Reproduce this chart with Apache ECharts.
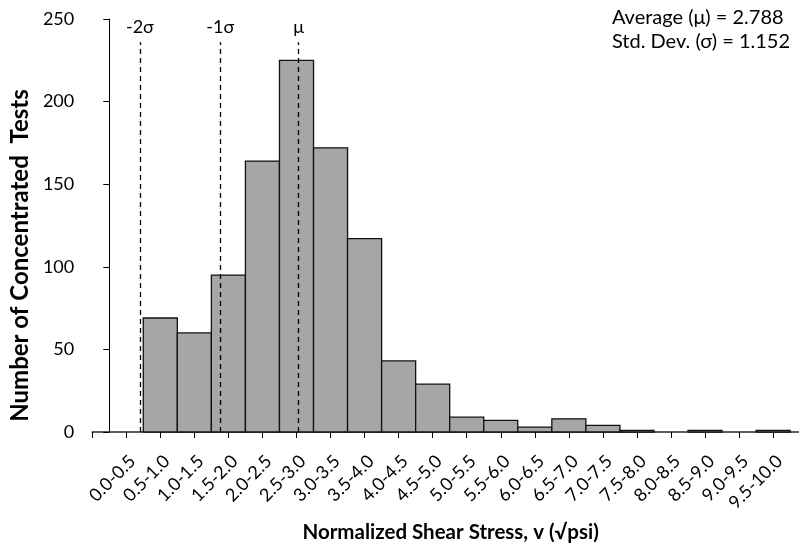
<!DOCTYPE html>
<html>
<head>
<meta charset="utf-8">
<script src="https://cdn.jsdelivr.net/npm/echarts@6/dist/echarts.min.js"></script>
<style>
html,body{margin:0;padding:0;background:#fff;}
#chart{width:799px;height:548px;}
</style>
</head>
<body>
<div id="chart"></div>
<script>
// ---- data ----
const categories = ['0.0-0.5','0.5-1.0','1.0-1.5','1.5-2.0','2.0-2.5','2.5-3.0','3.0-3.5','3.5-4.0','4.0-4.5','4.5-5.0',
                    '5.0-5.5','5.5-6.0','6.0-6.5','6.5-7.0','7.0-7.5','7.5-8.0','8.0-8.5','8.5-9.0','9.0-9.5','9.5-10.0'];
const binStart = [0.0,0.5,1.0,1.5,2.0,2.5,3.0,3.5,4.0,4.5,5.0,5.5,6.0,6.5,7.0,7.5,8.0,8.5,9.0,9.5];
const binWidth = 0.5;
const counts = [0,69,60,95,164,225,172,117,43,29,9,7,3,8,4,1,0,1,0,1];
const yTicks = [0,50,100,150,200,250];
const mu = 2.788;
const sigma = 1.152;
const refLabels = ['-2σ','-1σ','μ'];
const refPositions = [0.45,1.63,2.78];   // (≈ μ-2σ, μ-σ, μ)
const refLineTop = 236;

const FONT = 'Lato';
const chart = echarts.init(document.getElementById('chart'), null, {renderer:'canvas'});

const centers = binStart.map(s => s + binWidth/2);
const tickValues = [binStart[0] - binWidth/2].concat(centers);
const labelOf = {};
centers.forEach((c,i)=>{ labelOf[c.toFixed(2)] = categories[i]; });

const barData = binStart.map((s,i)=>[s, s+binWidth, counts[i]]);

const option = {
  animation:false,
  grid:{left:91, right:0, top:19, bottom:116, containLabel:false},
  xAxis:{
    type:'value',
    min: binStart[0] - binWidth/2,
    max: 10.13,
    name:'Normalized Shear Stress, v (√psi)',
    nameLocation:'middle',
    nameGap:90,
    nameTextStyle:{fontFamily:FONT,fontWeight:'bold',fontSize:20.5,color:'#000',padding:[0,0,0,10]},
    axisLine:{show:true,onZero:false,lineStyle:{color:'#2a2a2a',width:1.5}},
    axisTick:{show:true,length:6,inside:false,customValues:tickValues,lineStyle:{color:'#000',width:1}},
    axisLabel:{show:true,rotate:45,margin:20,verticalAlign:'top',fontFamily:FONT,fontSize:18,color:'#000',
      customValues:centers,
      formatter:(v)=> labelOf[Number(v).toFixed(2)] || ''},
    splitLine:{show:false}
  },
  yAxis:{
    type:'value',
    min:yTicks[0], max:yTicks[yTicks.length-1], interval:yTicks[1]-yTicks[0],
    name:'Number of Concentrated  Tests',
    nameLocation:'middle',
    nameGap:58,
    nameTextStyle:{fontFamily:FONT,fontWeight:'bold',fontSize:24,color:'#000',padding:[0,60,0,0]},
    axisLine:{show:true,lineStyle:{color:'#000',width:1}},
    axisTick:{show:true,length:6,lineStyle:{color:'#000',width:1}},
    axisLabel:{margin:18,fontFamily:FONT,fontSize:18,color:'#000'},
    splitLine:{show:false}
  },
  series:[
    {
      type:'custom',
      data:barData,
      encode:{x:[0,1],y:2},
      renderItem:(params, api)=>{
        if (!api.value(2)) return {type:'group', children:[]};
        const p0 = api.coord([api.value(0), api.value(2)]);
        const p1 = api.coord([api.value(1), 0]);
        return {
          type:'rect',
          shape:{x:p0[0], y:p0[1], width:p1[0]-p0[0], height:p1[1]-p0[1]},
          style:{fill:'#a6a6a6', stroke:'#111', lineWidth:1.3}
        };
      },
      z:2
    },
    {
      type:'line',
      data:[],
      markLine:{
        silent:true,
        symbol:'none',
        animation:false,
        lineStyle:{color:'#000',type:[5,4],width:1.3},
        label:{show:true,position:'end',distance:6,fontFamily:FONT,fontSize:18,color:'#000'},
        data: refPositions.map((x,i)=>[
          {coord:[x,0], name:refLabels[i], label:{formatter:refLabels[i]}},
          {coord:[x,refLineTop]}
        ])
      },
      z:3
    }
  ],
  graphic:[
    {
      type:'text',
      right:9, top:6,
      style:{
        text:'Average (μ) = ' + mu.toFixed(3) + '\nStd. Dev. (σ) = ' + sigma.toFixed(3),
        font:'20px ' + FONT,
        fill:'#000',
        align:'right',
        lineHeight:24
      }
    }
  ]
};
chart.setOption(option);
</script>
</body>
</html>
